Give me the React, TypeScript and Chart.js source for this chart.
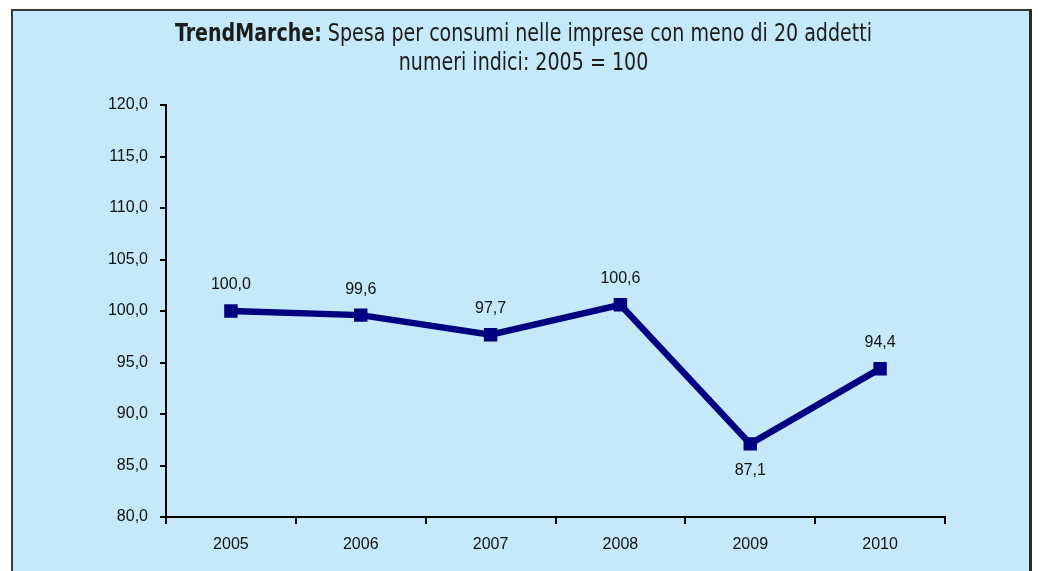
import React, { useEffect, useRef } from "react";
import { Chart, registerables } from "chart.js";

Chart.register(...registerables);

const years = ["2005", "2006", "2007", "2008", "2009", "2010"];
const indexValues = [100.0, 99.6, 97.7, 100.6, 87.1, 94.4];
const titleBold = "TrendMarche:";
const titleRest = " Spesa per consumi nelle imprese con meno di 20 addetti";
const subtitle = "numeri indici: 2005 = 100";
const yMin = 80;
const yMax = 120;
const yStep = 5;

const fmt = (v: number) => v.toFixed(1).replace(".", ",");

const titleFont = '"Liberation Sans Narrow", "DejaVu Sans Condensed", Arial, sans-serif';
const bodyFont = '"Liberation Sans", Arial, sans-serif';

const titlePlugin = {
  id: "customTitle",
  afterDraw(chart: any) {
    const ctx = chart.ctx;
    ctx.save();
    ctx.fillStyle = "#1c1c1c";
    ctx.textBaseline = "alphabetic";
    ctx.textAlign = "left";
    const cx = 523.5;
    const targetW = 697;
    ctx.font = `bold 24px ${titleFont}`;
    const wb = ctx.measureText(titleBold).width;
    ctx.font = `24px ${titleFont}`;
    const wr = ctx.measureText(titleRest).width;
    const sx = targetW / (wb + wr);
    ctx.translate(cx, 0);
    ctx.scale(sx, 1);
    const x = -(wb + wr) / 2;
    ctx.font = `bold 24px ${titleFont}`;
    ctx.fillText(titleBold, x, 41);
    ctx.font = `24px ${titleFont}`;
    ctx.fillText(titleRest, x + wb, 41);
    ctx.textAlign = "center";
    ctx.fillText(subtitle, 0, 70);
    ctx.restore();
  },
};

const labelPlugin = {
  id: "pointLabels",
  afterDatasetsDraw(chart: any) {
    const ctx = chart.ctx;
    const meta = chart.getDatasetMeta(0);
    const data = chart.data.datasets[0].data as number[];
    ctx.save();
    ctx.font = `16px ${bodyFont}`;
    ctx.fillStyle = "#111";
    ctx.textAlign = "center";
    ctx.textBaseline = "middle";
    meta.data.forEach((pt: any, i: number) => {
      const v = data[i];
      const prev = i > 0 ? data[i - 1] : Infinity;
      const next = i < data.length - 1 ? data[i + 1] : Infinity;
      const below = v < prev && v < next && v < 90;
      const y = below ? pt.y + 27 : pt.y - 26;
      ctx.fillText(fmt(v), pt.x, y);
    });
    ctx.restore();
  },
};

export default function App() {
  const canvasRef = useRef<HTMLCanvasElement | null>(null);

  useEffect(() => {
    const canvas = canvasRef.current;
    if (!canvas) return;
    const chart = new Chart(canvas, {
      type: "line",
      data: {
        labels: years,
        datasets: [
          {
            data: indexValues,
            borderColor: "#000080",
            backgroundColor: "#000080",
            borderWidth: 6.5,
            pointStyle: "rect",
            pointRadius: 9.5,
            pointBorderWidth: 0,
            pointBackgroundColor: "#000080",
            tension: 0,
            fill: false,
          },
        ],
      },
      options: {
        responsive: false,
        animation: false,
        events: [],
        layout: { padding: { left: 0, right: 93, top: 105, bottom: 0 } },
        plugins: {
          legend: { display: false },
          tooltip: { enabled: false },
          title: { display: false },
        },
        scales: {
          x: {
            offset: true,
            grid: {
              offset: true,
              drawOnChartArea: false,
              drawTicks: true,
              tickLength: 7,
              color: "#000",
              lineWidth: 2,
            },
            border: { color: "#000", width: 2 },
            ticks: {
              color: "#111",
              font: { size: 16, family: bodyFont },
              padding: 11,
            },
            afterFit(scale: any) {
              scale.height = 54;
            },
          },
          y: {
            min: yMin,
            max: yMax,
            grid: {
              drawOnChartArea: false,
              drawTicks: true,
              tickLength: 6,
              color: "#000",
              lineWidth: 2,
            },
            border: { color: "#000", width: 2 },
            ticks: {
              stepSize: yStep,
              color: "#111",
              font: { size: 16, family: bodyFont },
              padding: 12,
              callback: (v: any) => fmt(Number(v)),
            },
            afterFit(scale: any) {
              scale.width = 166;
            },
          },
        },
      },
      plugins: [titlePlugin, labelPlugin],
    });
    return () => chart.destroy();
  }, []);

  return (
    <div>
      <div
        style={{
          position: "fixed",
          left: 11,
          top: 9,
          width: 1016,
          height: 600,
          background: "#c5e9f8",
          borderTop: "2px solid #3a3a3a",
          borderLeft: "2px solid #3a3a3a",
          borderRight: "3px solid #2a2a2a",
        }}
      />
      <canvas
        ref={canvasRef}
        width={1038}
        height={571}
        style={{ position: "fixed", left: 0, top: 0, width: 1038, height: 571 }}
      />
    </div>
  );
}
